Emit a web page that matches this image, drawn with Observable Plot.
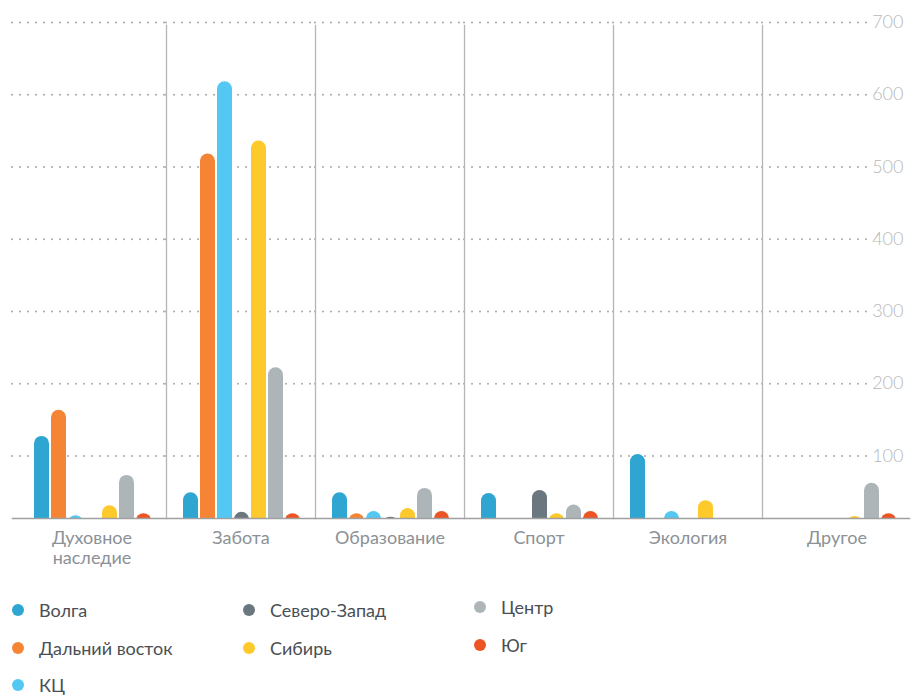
<!DOCTYPE html>
<html><head><meta charset="utf-8">
<script src="https://cdn.jsdelivr.net/npm/d3@7"></script>
<script src="https://cdn.jsdelivr.net/npm/@observablehq/plot@0.6"></script>
<style>
body{margin:0;background:#fff;font-family:Lato,"Noto Sans",sans-serif;}
#legend{display:grid;grid-template-rows:38px 38px 36px;grid-template-columns:repeat(3,231px);margin-top:11px;padding-left:12px;}
.item{display:flex;align-items:center;font-size:18px;color:#4a4f55;}
.dot{width:12px;height:12px;border-radius:50%;margin-right:15px;flex:none;}
</style></head><body>
<div id="chart"></div><div id="legend"></div>
<script>
const categories = ["Духовное наследие","Забота","Образование","Спорт","Экология","Другое"];
const series = ["Волга","Дальний восток","КЦ","Северо-Запад","Сибирь","Центр","Юг"];
const colors = ["#2fa6d2","#f58535","#52c8f2","#6b777e","#fec92a","#adb5b9","#ec5424"];
const volga = [127,49,49,48,102,0];
const dalniyVostok = [163,518,20,0,0,0];
const kc = [17,618,23,0,23,0];
const severoZapad = [0,22,15,52,0,0];
const sibir = [31,536,27,20,38,16];
const centr = [73,222,55,32,0,62];
const yug = [20,20,23,23,0,20];
const yTicks = [100,200,300,400,500,600,700];
const legendColumns = [3,2,2];
const values = [volga, dalniyVostok, kc, severoZapad, sibir, centr, yug];
const data = categories.flatMap((cat,i)=>series.map((s,j)=>({cat, series:s, value: values[j][i]})));
const gridData = categories.flatMap(cat=>yTicks.map(v=>({cat, v})));
const firstCat = categories[0], lastCat = categories[categories.length-1];

const gridStyle = {y:"v", fx:"cat", stroke:"#a8a8a8", strokeWidth:2, strokeDasharray:"0,8", strokeLinecap:"round"};

const chart = Plot.plot({
  width:911, height:580, marginTop:22, marginBottom:62, marginLeft:17, marginRight:0,
  style:{fontFamily:"Lato, sans-serif", background:"#fff"},
  fx:{domain:categories, padding:0, label:null},
  x:{domain:series, padding:0, insetLeft:16, insetRight:14, axis:null},
  y:{domain:[13.3,700]},
  color:{domain:series, range:colors},
  marks:[
    Plot.ruleY(gridData.filter(d=>d.cat===firstCat), {...gridStyle, insetLeft:-5}),
    Plot.ruleY(gridData.filter(d=>d.cat!==firstCat && d.cat!==lastCat), gridStyle),
    Plot.ruleY(gridData.filter(d=>d.cat===lastCat), {...gridStyle, insetRight:44}),
    Plot.frame({anchor:"left", fx:firstCat, facet:"exclude", stroke:"#b5b5b5", strokeWidth:1.3, insetTop:3}),
    Plot.barY(data, {fx:"cat", x:"series", y:"value", fill:"series", insetLeft:1, insetRight:1, rx:7.5, clip:true}),
    Plot.frame({anchor:"bottom", facet:"super", stroke:"#a0a0a0", strokeWidth:1.5, insetLeft:-5, insetRight:2}),
    Plot.axisY(yTicks, {anchor:"right", tickSize:0, tickPadding:0, dx:-8, textAnchor:"end", fill:"#b8b8b8", fontSize:18, fontWeight:300, label:null}),
    Plot.axisFx({anchor:"bottom", tickSize:0, tickPadding:11, fontSize:18, fill:"#8c9196", lineHeight:1.12, tickFormat:d=>d.replace(" ","\n"), label:null})
  ]
});
document.getElementById("chart").appendChild(chart);

const legend = d3.select("#legend");
let idx = 0;
legendColumns.forEach((n,c)=>{
  for (let r=0; r<n; r++, idx++) {
    const it = legend.append("div").attr("class","item")
      .style("grid-column", c+1).style("grid-row", r+1)
      .style("margin-top", c===2 ? "-6px" : "0");
    it.append("span").attr("class","dot").style("background",colors[idx]);
    it.append("span").text(series[idx]);
  }
});
</script>
</body></html>
